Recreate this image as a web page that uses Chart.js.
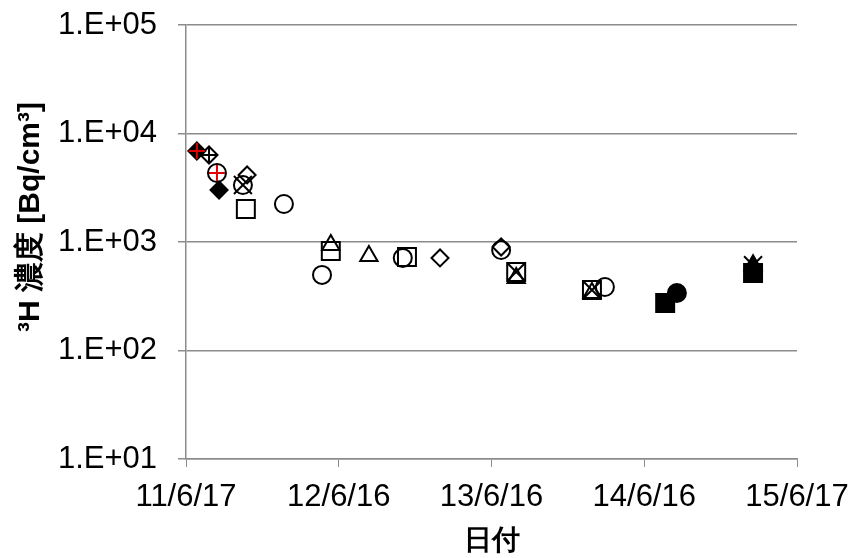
<!DOCTYPE html>
<html>
<head>
<meta charset="utf-8">
<script src="https://cdn.jsdelivr.net/npm/chart.js@4.4.0/dist/chart.umd.min.js"></script>
<style>
    html, body { margin: 0; padding: 0; background: #fff; }
</style>
</head>
<body>
<canvas id="chart" width="855" height="558"></canvas>
<script>
// x = days since 2011/6/17
const xTickLabels = ['11/6/17', '12/6/16', '13/6/16', '14/6/16', '15/6/17'];
const yTickValues = [10, 100, 1000, 10000, 100000];

const filledDiamondX = [26, 79];
const filledDiamondY = [6900, 3015];
const openDiamondX = [55, 146, 607, 753];
const openDiamondY = [6340, 4150, 713, 900];
const plusX = [55];
const plusY = [6340];
const openCircleX = [74, 136, 234, 325, 518, 753, 1001];
const openCircleY = [4325, 3350, 2240, 497, 713, 844, 385];
const crossX = [136, 789, 970, 1355];
const crossY = [3350, 530, 361, 610];
const openSquareX = [143, 346, 528, 789, 970];
const openSquareY = [2014, 826, 728, 530, 361];
const openTriangleX = [346, 437, 789, 970];
const openTriangleY = [938, 743, 466, 339];
const filledSquareX = [1145, 1355];
const filledSquareY = [274, 518];
const filledCircleX = [1173];
const filledCircleY = [339];
const filledTriangleX = [1355];
const filledTriangleY = [610];
const redPlusX = [26, 74];
const redPlusY = [6900, 4325];

const FONT = "'Liberation Sans', Arial, sans-serif";
const GRID = '#8c8c8c';

function pts(xs, ys) {
    return xs.map((x, i) => ({ x: x, y: ys[i] }));
}

function series(xs, ys, style, radius, filled, color) {
    const c = color || '#000';
    return {
        data: pts(xs, ys),
        pointStyle: style,
        pointRadius: radius,
        pointHoverRadius: radius,
        borderColor: c,
        backgroundColor: filled ? c : 'rgba(0,0,0,0)',
        pointBorderWidth: 2,
        showLine: false
    };
}

// Chart.js paints the first dataset last, so topmost marks come first
new Chart(document.getElementById('chart'), {
    type: 'scatter',
    data: {
        datasets: [
            series(redPlusX, redPlusY, 'cross', 8, false, '#e00000'),
            series(plusX, plusY, 'cross', 8, false),
            series(crossX, crossY, 'crossRot', 12.7, false),
            series(openDiamondX, openDiamondY, 'rectRot', 8.5, false),
            series(openCircleX, openCircleY, 'circle', 9, false),
            series(openTriangleX, openTriangleY, 'triangle', 10, false),
            series(openSquareX, openSquareY, 'rect', 12.7, false),
            series(filledDiamondX, filledDiamondY, 'rectRot', 8.5, true),
            series(filledTriangleX, filledTriangleY, 'triangle', 10, true),
            series(filledCircleX, filledCircleY, 'circle', 9, true),
            series(filledSquareX, filledSquareY, 'rect', 12.7, true)
        ]
    },
    options: {
        responsive: false,
        animation: false,
        devicePixelRatio: 1,
        layout: { padding: { top: 25, right: 58, bottom: 0, left: 0 } },
        plugins: {
            legend: { display: false },
            tooltip: { enabled: false }
        },
        scales: {
            x: {
                type: 'linear',
                min: 0,
                max: 1460,
                afterBuildTicks: (scale) => {
                    scale.ticks = xTickLabels.map((l, i) => ({ value: i * 365 }));
                },
                afterFit: (scale) => {
                    scale.height = 99;
                    scale.paddingLeft = 0;
                    scale.paddingRight = 0;
                },
                ticks: {
                    callback: (v) => xTickLabels[Math.round(v / 365)],
                    color: '#000',
                    font: { family: FONT, size: 31 },
                    padding: 12,
                    maxRotation: 0
                },
                grid: {
                    drawOnChartArea: false,
                    drawTicks: true,
                    tickLength: 8,
                    color: GRID
                },
                border: { color: GRID, width: 1.5 },
                title: {
                    display: true,
                    text: '日付',
                    color: '#000',
                    font: { family: FONT, size: 28, weight: 'bold' },
                    padding: { top: 0, bottom: 0 }
                }
            },
            y: {
                type: 'logarithmic',
                min: 10,
                max: 100000,
                afterBuildTicks: (scale) => {
                    scale.ticks = yTickValues.map((v) => ({ value: v }));
                },
                afterFit: (scale) => {
                    scale.width = 186;
                    scale.paddingTop = 0;
                    scale.paddingBottom = 0;
                },
                ticks: {
                    callback: (v) => '1.E+' + String(Math.round(Math.log10(v))).padStart(2, '0'),
                    color: '#000',
                    font: { family: FONT, size: 31 },
                    padding: 21
                },
                grid: {
                    color: GRID,
                    lineWidth: 1.5,
                    tickLength: 8
                },
                border: { color: GRID, width: 1.5 },
                title: {
                    display: true,
                    // leading spaces push the centred (rotated) title up, as in the original
                    text: '      ³H 濃度 [Bq/cm³]',
                    color: '#000',
                    font: { family: FONT, size: 30, weight: 'bold' },
                    padding: { top: 13, bottom: 0 }
                }
            }
        }
    }
});
</script>
</body>
</html>
